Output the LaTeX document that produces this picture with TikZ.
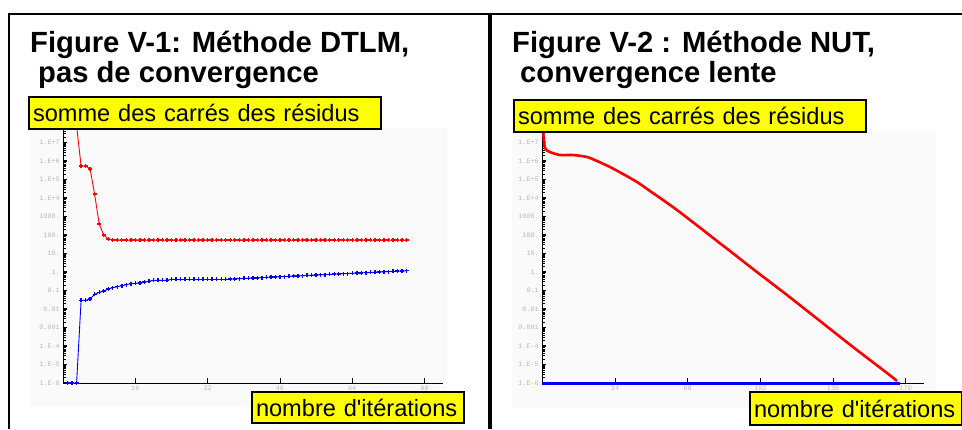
\documentclass[tikz,border=0pt]{standalone}
\usepackage{fontspec}
\setmainfont{Liberation Sans}
\newfontfamily\labfont{Liberation Sans}
\newfontfamily\tickfont{Liberation Mono}
\definecolor{plotbg}{HTML}{FAFAFA}
\definecolor{ticklab}{HTML}{B8B8B8}
\definecolor{hiyellow}{HTML}{FFFF00}
\tikzset{
  frameline/.style={line width=2pt, black},
  midline/.style={line width=3.3pt, black},
  titletext/.style={anchor=base west, inner sep=0pt, font=\bfseries\fontsize{29.2}{30}\selectfont},
  ybox/.style={draw=black, line width=2pt, fill=hiyellow, inner ysep=0pt, inner xsep=4pt,
    align=left, font=\labfont\fontsize{23.6}{26}\selectfont, anchor=north west},
  axisline/.style={line width=0.9pt, black},
  minortick/.style={line width=0.6pt, black},
  majortick/.style={line width=1.6pt, black},
  xtick/.style={line width=0.7pt, black},
  ticklabel/.style={inner sep=0pt, text=ticklab, font=\tickfont\fontsize{6.8}{7}\selectfont},
  redpts/.style={red, line width=0.9pt, mark=+, mark size=2pt, mark options={line width=1.4pt}},
  bluepts/.style={blue, line width=0.9pt, mark=+, mark size=2pt, mark options={line width=1.4pt}},
}
\begin{document}
\begin{tikzpicture}[x=1pt, y=-1pt]
\useasboundingbox (0,0) rectangle (962,429);

% light plot backgrounds
\fill[plotbg] (30,128) rectangle (447,407);
\fill[plotbg] (512,131) rectangle (936,408);

% panel frame
\draw[frameline] (8,14) -- (962,14);
\draw[frameline] (9,13) -- (9,429);
\draw[midline] (490,13) -- (490,429);

% ---------- left plot: axes ----------
\draw[axisline] (63,126) -- (63,383) -- (443,383);
\foreach \k in {0,...,13}{
  \foreach \m in {2,...,9}{
    \draw[minortick] (63,{383-18.5*(\k+ln(\m)/ln(10))}) -- ++(3,0);
  }
  \draw[majortick] (62.5,{383-18.5*\k}) -- ++(4,0);
}
\foreach \lab [count=\c from 0] in {1.E-6,1.E-5,1.E-4,0.001,0.01,0.1,1.,10.,100.,1000.,1.E+4,1.E+5,1.E+6,1.E+7}{
  \node[ticklabel, anchor=east] (ly\c) at (60,{383-18.5*\c}) {\lab};
}
\foreach \v [count=\c] in {16,32,48,64,80}{
  \draw[xtick] ({63+72.3*\c},383) -- ++(0,-5);
  \node[ticklabel, anchor=north] (lx\c) at ({63+72.3*\c},385.5) {\v};
}

% left plot: red series
\draw[red, line width=0.9pt] (76.6,126) -- (81.1,166);
\draw[redpts] plot coordinates {(81.1,166) (85.6,166) (90.1,169) (94.6,194) (99.2,224) (103.7,235) (108.2,239) (112.7,240)};
\draw[redpts] plot[domain=11:76, samples=66] ({63+4.52*\x},240);

% left plot: blue series
\draw[bluepts] plot coordinates {(67.5,383) (72.0,383) (76.6,383) (81.1,300.3) (85.6,300.3) (90.1,299) (94.6,294.3)
  (99.2,292.3) (103.7,291) (108.2,289) (112.7,287.7) (117.2,286.7) (121.8,285.7) (126.3,284.7) (130.8,283.7)
  (135.3,283.3) (139.8,283) (144.4,282) (148.9,281.3) (153.4,280.3) (157.9,280.3) (162.4,280.3) (167.0,280.3)
  (171.5,279.3) (176.0,279.3)};
\draw[bluepts] plot[domain=25:36, samples=12] ({63+4.52*\x},279.3);
\draw[bluepts] plot[domain=36:76, samples=41] ({63+4.52*\x},{279.3-(\x-36)*0.215});

% ---------- right plot: axes ----------
\draw[axisline] (542,129) -- (542,383) -- (924,383);
\foreach \k in {0,...,13}{
  \foreach \m in {2,...,9}{
    \draw[minortick] (542,{383-18.5*(\k+ln(\m)/ln(10))}) -- ++(3,0);
  }
  \draw[majortick] (541.5,{383-18.5*\k}) -- ++(4,0);
}
\foreach \lab [count=\c from 0] in {1.E-6,1.E-5,1.E-4,0.001,0.01,0.1,1.,10.,100.,1000.,1.E+4,1.E+5,1.E+6,1.E+7}{
  \node[ticklabel, anchor=east] (ry\c) at (539,{383-18.5*\c}) {\lab};
}
\foreach \v [count=\c] in {34,68,102,136,170}{
  \draw[xtick] ({542.3+72.7*\c},383) -- ++(0,-5);
  \node[ticklabel, anchor=north] (rx\c) at ({542.3+72.7*\c},385.5) {\v};
}

% right plot: series
\draw[blue, line width=3pt] (542,383) -- (900,383);
\draw[red, line width=2.6pt, line join=round] plot[smooth, tension=0.45] coordinates {(543,130) (545,148) (550,152)
  (560,155) (573,155) (587,157) (597,161) (610,167) (623,174) (637,182) (650,191) (663,200) (677,210)
  (690,220) (703,230) (717,241) (730,251) (753,269) (787,295) (820,321) (853,347) (887,373) (897,381)};

% ---------- labels ----------
\node[ybox, text width=344pt, minimum height=32pt] (ylabL) at (28,96) {somme des carrés des résidus};
\node[ybox, text width=344pt, minimum height=32pt] (ylabR) at (513,99) {somme des carrés des résidus};
\node[ybox, text width=204pt, minimum height=31pt] (xlabL) at (251,391) {nombre d'itérations};
\node[ybox, text width=204pt, minimum height=33pt] (xlabR) at (749,391) {nombre d'itérations};

\node[titletext] (t1a) at (30,52) {Figure V-1: Méthode DTLM,};
\node[titletext] (t1b) at (38,82) {pas de convergence};
\node[titletext] (t2a) at (512,52) {Figure V-2 : Méthode NUT,};
\node[titletext] (t2b) at (520,82) {convergence lente};
\end{tikzpicture}
\end{document}
